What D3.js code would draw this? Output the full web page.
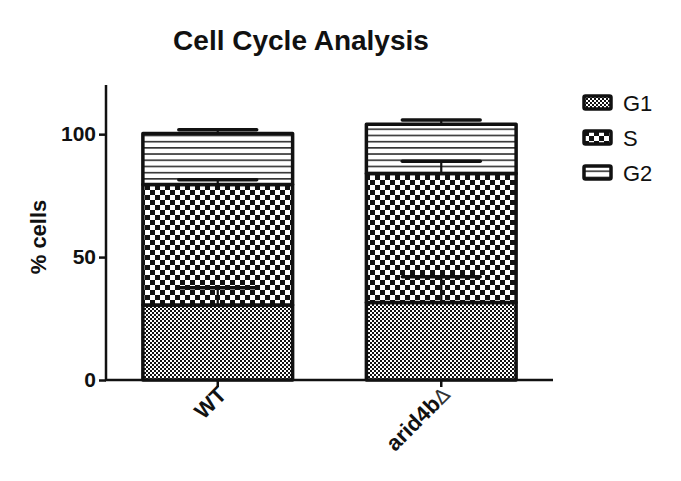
<!DOCTYPE html>
<html>
<head>
<meta charset="utf-8">
<script src="https://cdn.jsdelivr.net/npm/d3@7"></script>
<style>
	body { margin: 0; background: #fff; }
	text { font-family: "Liberation Sans", Arial, sans-serif; fill: #111; }
</style>
</head>
<body>
<div class="chart"></div>
<script>
var groups = ["WT", "arid4b"],
	phases = ["G1", "S", "G2"],
	g1Vals = [30.5, 31.5],
	sVals = [49, 52.5],
	g2Vals = [20.8, 20],
	g1Err = [7, 10.5],
	sErr = [2, 5],
	g2Err = [1.5, 1.8],
	yTicks = [0, 50, 100];

var width = 681, height = 481,
	plotLeft = 106, plotRight = 553, plotTop = 85, plotBottom = 380;

var svg = d3.select("div.chart")
	.append("svg")
	.attr("width", width)
	.attr("height", height);

var defs = svg.append("defs");

// fine checker for G1
var p1 = defs.append("pattern").attr("id", "patG1")
	.attr("patternUnits", "userSpaceOnUse").attr("width", 4).attr("height", 4);
p1.append("rect").attr("width", 4).attr("height", 4).attr("fill", "#fff");
p1.append("rect").attr("width", 2).attr("height", 2).attr("fill", "#111");
p1.append("rect").attr("x", 2).attr("y", 2).attr("width", 2).attr("height", 2).attr("fill", "#111");

// coarse checker for S
var p2 = defs.append("pattern").attr("id", "patS")
	.attr("patternUnits", "userSpaceOnUse").attr("width", 10).attr("height", 10);
p2.append("rect").attr("width", 10).attr("height", 10).attr("fill", "#fff");
p2.append("rect").attr("width", 5).attr("height", 5).attr("fill", "#111");
p2.append("rect").attr("x", 5).attr("y", 5).attr("width", 5).attr("height", 5).attr("fill", "#111");

// horizontal lines for G2
var p3 = defs.append("pattern").attr("id", "patG2")
	.attr("patternUnits", "userSpaceOnUse").attr("width", 6).attr("height", 6.2);
p3.append("rect").attr("width", 6).attr("height", 6.2).attr("fill", "#fff");
p3.append("rect").attr("y", 4.5).attr("width", 6).attr("height", 1.5).attr("fill", "#222");

var fills = { G1: "url(#patG1)", S: "url(#patS)", G2: "url(#patG2)" };

var x = d3.scaleBand()
	.domain(groups)
	.range([plotLeft, plotRight])
	.paddingInner(0.33)
	.paddingOuter(0.165);

var y = d3.scaleLinear()
	.domain([0, 120])
	.range([plotBottom, plotTop]);

var rows = groups.map(function(g, i) {
	return { group: g, G1: g1Vals[i], S: sVals[i], G2: g2Vals[i],
		err: { G1: g1Err[i], S: sErr[i], G2: g2Err[i] } };
});

var stack = d3.stack().keys(phases)(rows);

var barLayer = svg.append("g");
var errLayer = svg.append("g");

stack.forEach(function(layer) {
	barLayer.selectAll(".seg" + layer.key)
		.data(layer)
		.enter().append("rect")
		.attr("class", "seg" + layer.key)
		.attr("x", function(d) { return x(d.data.group); })
		.attr("width", x.bandwidth())
		.attr("y", function(d) { return y(d[1]); })
		.attr("height", function(d) { return y(d[0]) - y(d[1]); })
		.attr("fill", fills[layer.key])
		.attr("stroke", "#111")
		.attr("stroke-width", 3.5)
		.attr("stroke-linejoin", "round");

	var capW = x.bandwidth() * 0.52;
	var eb = errLayer.selectAll(".err" + layer.key)
		.data(layer)
		.enter().append("g");
	eb.append("line")
		.attr("x1", function(d) { return x(d.data.group) + x.bandwidth() / 2; })
		.attr("x2", function(d) { return x(d.data.group) + x.bandwidth() / 2; })
		.attr("y1", function(d) { return y(d[1]); })
		.attr("y2", function(d) { return y(d[1] + d.data.err[layer.key]); })
		.attr("stroke", "#111")
		.attr("stroke-width", 2.2);
	eb.append("line")
		.attr("x1", function(d) { return x(d.data.group) + x.bandwidth() / 2 - capW / 2; })
		.attr("x2", function(d) { return x(d.data.group) + x.bandwidth() / 2 + capW / 2; })
		.attr("y1", function(d) { return y(d[1] + d.data.err[layer.key]); })
		.attr("y2", function(d) { return y(d[1] + d.data.err[layer.key]); })
		.attr("stroke", "#111")
		.attr("stroke-width", 3.5)
		.attr("stroke-linecap", "round");
});

// axes
var yAxis = svg.append("g")
	.attr("transform", "translate(" + plotLeft + ",0)")
	.call(d3.axisLeft(y).tickValues(yTicks).tickSize(7).tickPadding(3));
yAxis.select(".domain").attr("d", "M0," + plotTop + "V" + plotBottom).attr("stroke-width", 2.5).attr("stroke", "#111");
yAxis.selectAll(".tick line").attr("stroke-width", 2.5).attr("stroke", "#111");
yAxis.selectAll(".tick text")
	.style("font-family", "Liberation Sans, Arial, sans-serif")
	.style("font-size", "21px").style("font-weight", "bold").attr("fill", "#111");

var xAxis = svg.append("g")
	.attr("transform", "translate(0," + plotBottom + ")")
	.call(d3.axisBottom(x).tickSize(7).tickFormat(""));
xAxis.select(".domain").attr("d", "M" + (plotLeft - 1) + ",0H" + plotRight).attr("stroke-width", 2.5).attr("stroke", "#111");
xAxis.selectAll(".tick line").attr("stroke-width", 2.5).attr("stroke", "#111");

var xLab = svg.append("g").selectAll("text")
	.data(groups)
	.enter().append("text")
	.attr("transform", function(d) {
		return "translate(" + (x(d) + x.bandwidth() / 2 + 10) + "," + (plotBottom + 16) + ") rotate(-45)";
	})
	.attr("text-anchor", "end")
	.style("font-size", "22px")
	.style("font-weight", "bold");
xLab.append("tspan").text(function(d) { return d; });
xLab.filter(function(d) { return d === "arid4b"; })
	.append("tspan")
	.style("font-weight", "normal")
	.style("font-family", "DejaVu Sans, sans-serif")
	.style("font-size", "20px")
	.attr("fill", "#333")
	.text("\u2206");

// title and y label
svg.append("text")
	.attr("x", 301).attr("y", 50)
	.attr("text-anchor", "middle")
	.style("font-size", "28px").style("font-weight", "bold")
	.text("Cell Cycle Analysis");

svg.append("text")
	.attr("transform", "translate(46,237) rotate(-90)")
	.attr("text-anchor", "middle")
	.style("font-size", "22px").style("font-weight", "bold")
	.text("% cells");

// legend
var legend = svg.append("g").attr("transform", "translate(584,96)");
var li = legend.selectAll("g")
	.data(phases)
	.enter().append("g")
	.attr("transform", function(d, i) { return "translate(0," + (i * 35) + ")"; });
li.append("rect")
	.attr("width", 27).attr("height", 13)
	.attr("rx", 1.5)
	.attr("fill", function(d) { return fills[d]; })
	.attr("stroke", "#111")
	.attr("stroke-width", 3.5);
li.append("text")
	.attr("x", 39).attr("y", 15)
	.style("font-size", "22px")
	.text(function(d) { return d; });
</script>
</body>
</html>
